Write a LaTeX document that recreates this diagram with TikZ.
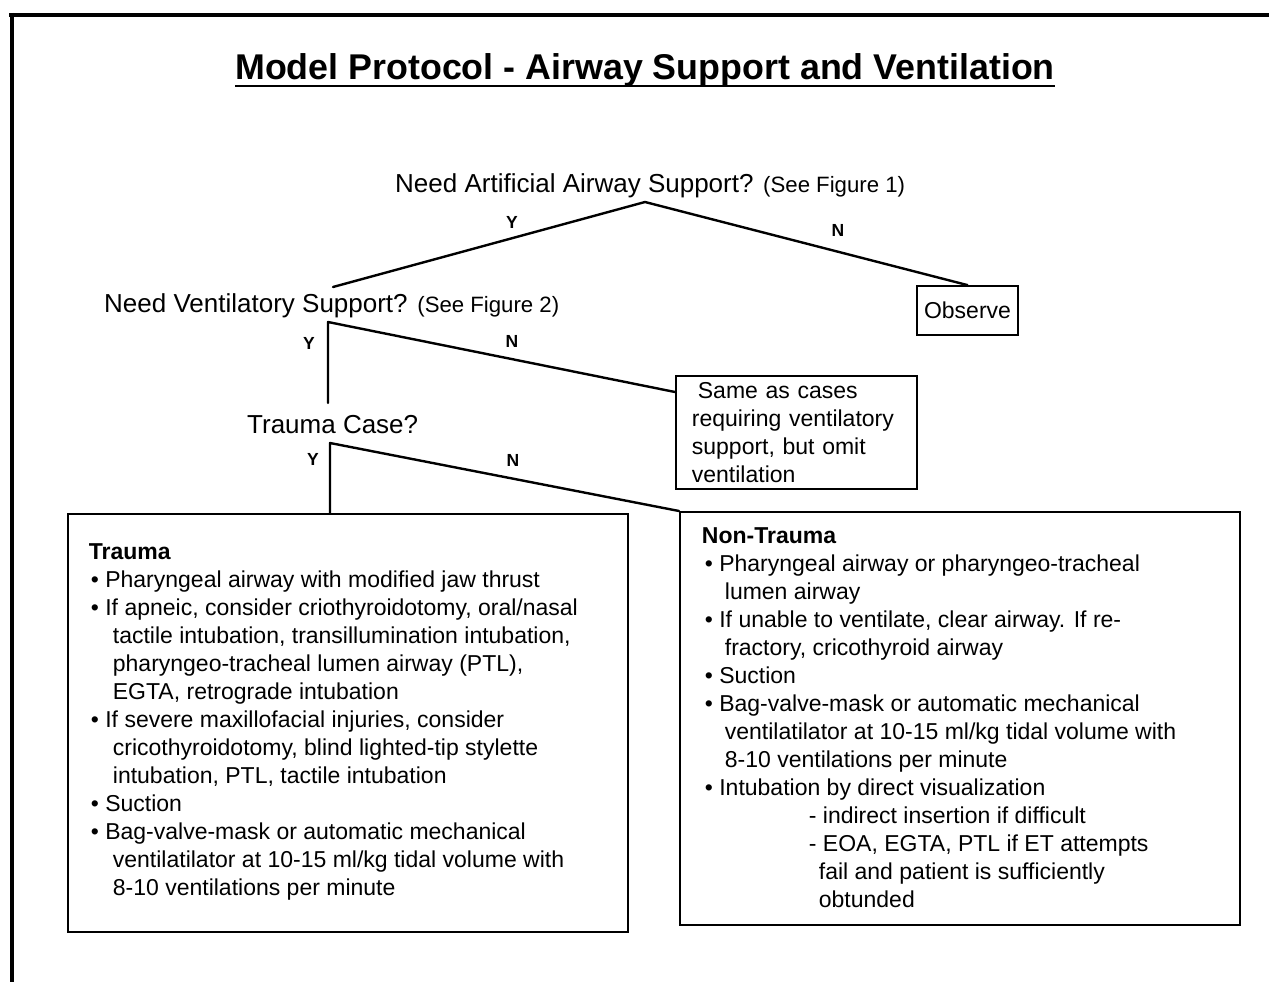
\documentclass[tikz,border=0pt]{standalone}
\usepackage{fontspec}
\setmainfont{Liberation Sans}
\usetikzlibrary{calc}
\newcommand\bitem{\hspace*{2pt}\textbullet\ }
\newcommand\contl{\hspace*{24pt}}
\newcommand\nbitem{\hspace*{3pt}\textbullet\ }
\newcommand\ncontl{\hspace*{23pt}}
\begin{document}
\begin{tikzpicture}[x=1pt,y=-1pt,
  conn/.style={line width=2.4pt, line cap=round, line join=round},
  yn/.style={font=\fontsize{17.5}{20}\selectfont\bfseries, inner sep=0pt},
  q/.style={font=\fontsize{26}{30}\selectfont, inner sep=0pt, anchor=base west},
  box/.style={draw, line width=1.8pt, inner sep=0pt, anchor=north west, font=\fontsize{23}{28}\selectfont}]
\useasboundingbox (0,0) rectangle (1269,982);
\fill[white] (0,0) rectangle (1269,982);
% frame
\draw[line width=4.5pt] (9,15) -- (1269,15);
\draw[line width=4.5pt] (12,13) -- (12,982);
% title
\node[inner sep=0pt, anchor=base, font=\fontsize{35.8}{40}\selectfont\bfseries] (title) at (645,80) {Model Protocol - Airway Support and Ventilation};
\draw[line width=2.8pt] ([yshift=-6pt]title.base west) -- ([yshift=-6pt]title.base east);
% question 1
\node[q] (q1) at (395,192) {Need Artificial Airway Support? {\fontsize{22.2}{24}\selectfont (See Figure 1)}};
\coordinate (a1) at (645,202);
\coordinate (q2top) at (333,287);
\node[draw, line width=1.8pt, minimum width=101pt, minimum height=49pt, inner sep=0pt, font=\fontsize{23}{26}\selectfont] (obs) at (967.5,310.5) {Observe};
\draw[conn] (q2top) -- (a1) -- (obs.north);
\node[yn] (y1) at (512,222) {Y};
\node[yn] (n1) at (838,230) {N};
% question 2
\node[q] (q2) at (104,312) {Need Ventilatory Support? {\fontsize{22.2}{24}\selectfont (See Figure 2)}};
\coordinate (a2) at (328,322);
\coordinate (t2) at (328,403);
\node[box, minimum width=241pt, minimum height=113pt, text width=209pt, inner xsep=16pt, align=left] (same) at (675,375)
  {\hspace*{6pt}Same as cases\\requiring ventilatory\\support, but omit\\ventilation};
\draw[conn] (t2) -- (a2) -- ([yshift=-17pt]same.north west);
\node[yn] (y2) at (309,343) {Y};
\node[yn] (n2) at (512,341) {N};
% trauma case
\node[q] (tc) at (247,433) {Trauma Case?};
\coordinate (a3) at (330,443);
% trauma box
\node[box] (tr) at (67,513) {\begin{minipage}[t][418pt][t]{560pt}\leftskip=21pt
\vspace*{29.5pt}\textbf{Trauma}\\
\bitem Pharyngeal airway with modified jaw thrust\\
\bitem If apneic, consider criothyroidotomy, oral/nasal\\
\contl tactile intubation, transillumination intubation,\\
\contl pharyngeo-tracheal lumen airway (PTL),\\
\contl EGTA, retrograde intubation\\
\bitem If severe maxillofacial injuries, consider\\
\contl cricothyroidotomy, blind lighted-tip stylette\\
\contl intubation, PTL, tactile intubation\\
\bitem Suction\\
\bitem Bag-valve-mask or automatic mechanical\\
\contl ventilatilator at 10-15 ml/kg tidal volume with\\
\contl 8-10 ventilations per minute
\end{minipage}};
% non-trauma box
\node[box] (nt) at (679,511) {\begin{minipage}[t][413pt][t]{560pt}\leftskip=22pt
\vspace*{15.5pt}\textbf{Non-Trauma}\\
\nbitem Pharyngeal airway or pharyngeo-tracheal\\
\ncontl lumen airway\\
\nbitem If unable to ventilate, clear airway. If re-\\
\ncontl fractory, cricothyroid airway\\
\nbitem Suction\\
\nbitem Bag-valve-mask or automatic mechanical\\
\ncontl ventilatilator at 10-15 ml/kg tidal volume with\\
\ncontl 8-10 ventilations per minute\\
\nbitem Intubation by direct visualization\\
\hspace*{107pt}- indirect insertion if difficult\\
\hspace*{107pt}- EOA, EGTA, PTL if ET attempts\\
\hspace*{117pt}fail and patient is sufficiently\\
\hspace*{117pt}obtunded
\end{minipage}};
\draw[conn] (a3 |- tr.north) -- (a3) -- (nt.north west);
\node[yn] (y3) at (313,459) {Y};
\node[yn] (n3) at (513,460) {N};
\end{tikzpicture}
\end{document}
